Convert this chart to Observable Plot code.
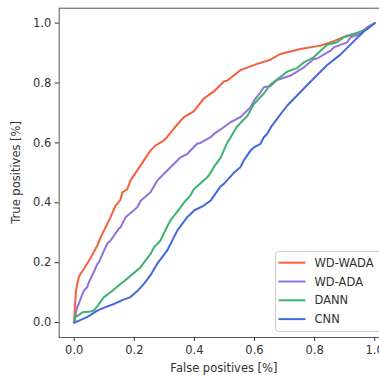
<!DOCTYPE html>
<html>
<head>
<meta charset="utf-8">
<script src="https://cdn.jsdelivr.net/npm/d3@7"></script>
<script src="https://cdn.jsdelivr.net/npm/@observablehq/plot@0.6"></script>
<style>
  html, body { margin: 0; padding: 0; background: #fff; overflow: hidden; }
  #chart svg { overflow: hidden; display: block; }
</style>
</head>
<body>
<div id="chart"></div>
<script>
// Series names and colours
const seriesNames = ["WD-WADA", "WD-ADA", "DANN", "CNN"];
const seriesColors = ["#f4603c", "#9370db", "#3cb371", "#4169e1"];

// WD-WADA ROC
const wdwadaFpr = [0,0.002,0.006,0.015,0.021,0.032,0.054,0.077,0.088,0.11,0.121,0.137,0.154,0.16,0.176,0.187,0.221,0.254,0.27,0.298,0.309,0.326,0.354,0.365,0.398,0.431,0.465,0.498,0.509,0.553,0.609,0.653,0.686,0.753,0.82,0.864,0.908,0.953,0.975,1];
const wdwadaTpr = [0,0.05,0.107,0.151,0.163,0.179,0.215,0.257,0.285,0.33,0.352,0.39,0.41,0.435,0.445,0.474,0.525,0.575,0.591,0.608,0.619,0.641,0.674,0.686,0.705,0.748,0.772,0.805,0.808,0.843,0.864,0.878,0.897,0.914,0.925,0.94,0.958,0.969,0.985,1];

// WD-ADA ROC
const wdadaFpr = [0,0.005,0.01,0.015,0.032,0.043,0.049,0.065,0.077,0.082,0.099,0.11,0.121,0.148,0.154,0.171,0.21,0.221,0.254,0.276,0.298,0.343,0.354,0.376,0.409,0.42,0.454,0.465,0.487,0.52,0.553,0.564,0.587,0.598,0.62,0.631,0.653,0.675,0.72,0.764,0.797,0.809,0.853,0.864,0.908,0.92,0.953,0.975,1];
const wdadaTpr = [0,0.03,0.051,0.062,0.107,0.118,0.135,0.168,0.196,0.201,0.24,0.263,0.274,0.313,0.318,0.352,0.385,0.407,0.435,0.474,0.496,0.541,0.552,0.563,0.597,0.6,0.619,0.63,0.645,0.669,0.686,0.697,0.719,0.741,0.769,0.786,0.79,0.81,0.825,0.852,0.88,0.882,0.908,0.919,0.936,0.953,0.964,0.986,1];

// DANN ROC
const dannFpr = [0,0.004,0.021,0.027,0.054,0.065,0.077,0.099,0.121,0.154,0.165,0.198,0.221,0.232,0.254,0.265,0.287,0.309,0.32,0.354,0.365,0.387,0.398,0.409,0.443,0.454,0.465,0.487,0.509,0.542,0.576,0.598,0.631,0.653,0.675,0.709,0.742,0.764,0.797,0.82,0.842,0.875,0.897,0.931,0.975,1];
const dannTpr = [0,0.018,0.029,0.034,0.037,0.04,0.055,0.085,0.101,0.129,0.137,0.165,0.185,0.2,0.229,0.25,0.274,0.32,0.341,0.385,0.4,0.425,0.445,0.455,0.485,0.5,0.52,0.55,0.6,0.655,0.69,0.73,0.765,0.795,0.812,0.838,0.85,0.869,0.886,0.908,0.928,0.936,0.953,0.964,0.981,1];

// CNN ROC
const cnnFpr = [0,0.004,0.02,0.043,0.077,0.1,0.132,0.16,0.187,0.21,0.232,0.255,0.276,0.309,0.343,0.376,0.4,0.43,0.454,0.487,0.498,0.531,0.553,0.564,0.587,0.598,0.62,0.631,0.642,0.653,0.675,0.709,0.753,0.797,0.842,0.886,0.931,0.964,1];
const cnnTpr = [0,0.001,0.008,0.018,0.04,0.05,0.062,0.075,0.085,0.105,0.129,0.16,0.196,0.24,0.307,0.352,0.375,0.39,0.407,0.455,0.463,0.5,0.519,0.541,0.575,0.585,0.597,0.619,0.63,0.65,0.68,0.725,0.77,0.815,0.86,0.895,0.94,0.972,1];

// Tick values and axis titles
const tickValues = [0, 0.2, 0.4, 0.6, 0.8, 1.0];
const xLabel = "False positives [%]";
const yLabel = "True positives [%]";

const seriesFpr = [wdwadaFpr, wdadaFpr, dannFpr, cnnFpr];
const seriesTpr = [wdwadaTpr, wdadaTpr, dannTpr, cnnTpr];
const rows = [];
seriesNames.forEach((name, i) => {
  seriesFpr[i].forEach((f, j) => rows.push({series: name, fpr: f, tpr: seriesTpr[i][j]}));
});

const W = 379, H = 375;
const plot = Plot.plot({
  width: W,
  height: H,
  marginLeft: 58.7,
  marginRight: -10.2,
  marginTop: 7.7,
  marginBottom: 38,
  style: {fontFamily: "DejaVu Sans, sans-serif", fontSize: "11.5px", color: "#333", background: "#fff"},
  x: {domain: [-0.05, 1.05], ticks: tickValues, tickFormat: d3.format(".1f"), tickSize: 4, tickPadding: 4, label: null},
  y: {domain: [-0.05, 1.05], ticks: tickValues, tickFormat: d3.format(".1f"), tickSize: 4, tickPadding: 4, label: null},
  color: {domain: seriesNames, range: seriesColors},
  marks: [
    Plot.line(rows, {x: "fpr", y: "tpr", z: "series", stroke: "series", strokeWidth: 2}),
    Plot.frame({stroke: "#555", strokeWidth: 1})
  ]
});
document.getElementById("chart").appendChild(plot);

const svg = d3.select(plot);
// Axis titles
const xMid = (58.7 + (W + 10.2)) / 2;
const yMid = (7.7 + (H - 38)) / 2;
svg.append("text").attr("x", xMid).attr("y", 372).attr("text-anchor", "middle")
  .attr("font-family", "DejaVu Sans, sans-serif").attr("font-size", "11.5px").attr("fill", "#333").text(xLabel);
svg.append("text").attr("transform", `translate(19.5,${yMid}) rotate(-90)`).attr("text-anchor", "middle")
  .attr("font-family", "DejaVu Sans, sans-serif").attr("font-size", "11.5px").attr("fill", "#333").text(yLabel);

// Legend (matplotlib-style, lower right)
const lg = svg.append("g").attr("font-family", "DejaVu Sans, sans-serif").attr("font-size", "11.5px");
lg.append("rect").attr("x", 275.5).attr("y", 251.5).attr("width", 120).attr("height", 80)
  .attr("rx", 3).attr("fill", "#fff").attr("fill-opacity", 0.85).attr("stroke", "#ccc");
seriesNames.forEach((name, i) => {
  const cy = 262.7 + i * 18.8;
  lg.append("line").attr("x1", 278.5).attr("x2", 305.5).attr("y1", cy).attr("y2", cy)
    .attr("stroke", seriesColors[i]).attr("stroke-width", 2);
  lg.append("text").attr("x", 314.5).attr("y", cy).attr("dy", "0.35em").attr("text-anchor", "start")
    .attr("fill", "#333").text(name);
});
</script>
</body>
</html>
